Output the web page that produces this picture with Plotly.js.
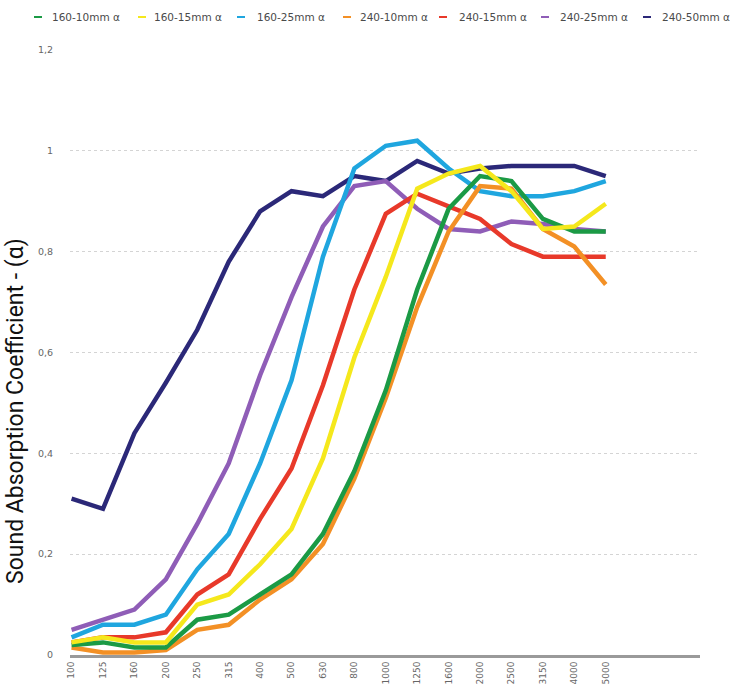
<!DOCTYPE html>
<html>
<head>
<meta charset="utf-8">
<script src="https://cdn.plot.ly/plotly-3.0.1.min.js"></script>
<style>html,body{margin:0;padding:0;background:#fff;}#chart{width:734px;height:691px;}</style>
</head>
<body>
<div id="chart"></div>
<script>
const frequencies = ["100","125","160","200","250","315","400","500","630","800","1000","1250","1600","2000","2500","3150","4000","5000"];
const seriesNames = ["160-10mm α","160-15mm α","160-25mm α","240-10mm α","240-15mm α","240-25mm α","240-50mm α"];
const s160_10 = [0.02,0.025,0.015,0.015,0.07,0.08,0.12,0.16,0.24,0.365,0.525,0.725,0.885,0.95,0.94,0.865,0.84,0.84];
const s160_15 = [0.025,0.035,0.025,0.025,0.10,0.12,0.18,0.25,0.39,0.59,0.75,0.925,0.955,0.97,0.92,0.845,0.85,0.895];
const s160_25 = [0.035,0.06,0.06,0.08,0.17,0.24,0.38,0.545,0.79,0.965,1.01,1.02,0.965,0.92,0.91,0.91,0.92,0.94];
const s240_10 = [0.015,0.005,0.005,0.01,0.05,0.06,0.11,0.15,0.22,0.35,0.51,0.69,0.84,0.93,0.925,0.845,0.81,0.735];
const s240_15 = [0.025,0.035,0.035,0.045,0.12,0.16,0.27,0.37,0.535,0.725,0.875,0.915,0.89,0.865,0.815,0.79,0.79,0.79];
const s240_25 = [0.05,0.07,0.09,0.15,0.26,0.38,0.555,0.71,0.85,0.93,0.94,0.885,0.845,0.84,0.86,0.855,0.845,0.84];
const s240_50 = [0.31,0.29,0.44,0.54,0.645,0.78,0.88,0.92,0.91,0.95,0.94,0.98,0.955,0.965,0.97,0.97,0.97,0.95];
const yTickVals = [0,0.2,0.4,0.6,0.8,1,1.2];
const yTickText = ["0","0,2","0,4","0,6","0,8","1","1,2"];

const allSeries = [s160_10,s160_15,s160_25,s240_10,s240_15,s240_25,s240_50];
const colors = ["#1b9a45","#f5e81c","#1fa6df","#f39025","#e8392a","#8f5db7","#2b2878"];
const drawOrder = [6, 5, 2, 4, 3, 0, 1];
const idx = frequencies.map((_, i) => i);

const W = 734, H = 691;
const M = {l: 70, r: 34, t: 50, b: 36};
const plotW = W - M.l - M.r, plotH = H - M.t - M.b;
const px2paperX = px => (px - M.l) / plotW;
const px2paperY = py => (H - M.b - py) / plotH;

const traces = drawOrder.map(k => ({
  type: "scatter",
  mode: "lines",
  name: seriesNames[k],
  x: idx,
  y: allSeries[k],
  line: {color: colors[k], width: 4.5},
  showlegend: false
}));

// legend drawn as short dashes + text (layout positions, in pixels)
const legendDashX = [34, 138, 237, 343, 439, 541, 643];
const legendTextX = [50, 152, 255, 358, 457, 558, 660];
const legendY = 17;
const shapes = [];
const annotations = [];
seriesNames.forEach((nm, k) => {
  shapes.push({
    type: "line", xref: "paper", yref: "paper",
    x0: px2paperX(legendDashX[k]), x1: px2paperX(legendDashX[k] + 8),
    y0: px2paperY(legendY), y1: px2paperY(legendY),
    line: {color: colors[k], width: 2}
  });
  annotations.push({
    text: nm, xref: "paper", yref: "paper",
    x: px2paperX(legendTextX[k]), y: px2paperY(legendY),
    xanchor: "left", yanchor: "middle", showarrow: false,
    font: {family: "DejaVu Sans", size: 10.5, color: "#4a4a4a"}
  });
});
annotations.push({
  text: "Sound Absorption Coefficient - (α)",
  xref: "paper", yref: "paper",
  x: px2paperX(15), y: px2paperY(411), xanchor: "center", yanchor: "middle",
  textangle: -90, showarrow: false,
  font: {family: "Liberation Sans Narrow, Roboto, sans-serif", size: 23, color: "#111"}
});

const layout = {
  width: W, height: H,
  margin: M,
  paper_bgcolor: "#fff",
  plot_bgcolor: "#fff",
  showlegend: false,
  xaxis: {
    range: [-0.05, 20],
    tickmode: "array", tickvals: idx, ticktext: frequencies,
    tickangle: -90,
    tickfont: {family: "DejaVu Sans", size: 9, color: "#666"},
    showgrid: false, zeroline: false,
    showline: true, linecolor: "#9a9a9a", linewidth: 3,
    ticks: "", automargin: false
  },
  yaxis: {
    range: [0, 1.2],
    tickmode: "array", tickvals: yTickVals, ticktext: yTickText,
    tickfont: {family: "DejaVu Sans", size: 9.5, color: "#666"},
    ticklabelstandoff: 16,
    showgrid: true, gridcolor: "#d4d4d4", gridwidth: 1, griddash: "dot",
    zeroline: false, showline: false, ticks: "",
    automargin: false
  },
  shapes: shapes,
  annotations: annotations
};

Plotly.newPlot("chart", traces, layout, {displayModeBar: false, staticPlot: true});
</script>
</body>
</html>
